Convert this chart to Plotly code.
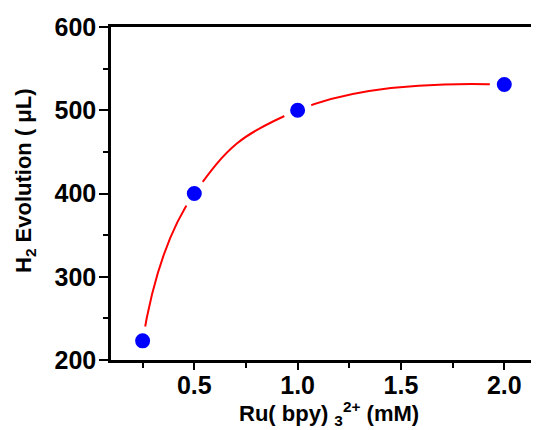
import plotly.graph_objects as go

conc = [0.25, 0.5, 1.0, 2.0]
h2 = [223, 400, 500, 531]
x_ticks = [0.5, 1.0, 1.5, 2.0]
x_ticklabels = ["0.5", "1.0", "1.5", "2.0"]
x_minor = [0.25, 0.75, 1.25, 1.75]
y_ticks = [200, 300, 400, 500, 600]
y_ticklabels = ["200", "300", "400", "500", "600"]
y_minor = [250, 350, 450, 550]
x_title = "Ru( bpy) <sub>3</sub><sup>2+</sup> (mM)"
y_title = "H<sub>2</sub> Evolution ( μL)"

FONT = "Liberation Sans, Arial, sans-serif"
# page body has an 8px default margin; compensate so the plot lands where the reference has it
OFF = 8
L, R, T, B = 111 - OFF, 0, 27 - OFF, 78 - OFF
W, H = 539 - OFF, 430 - OFF
pw, ph = W - L - R, H - T - B

fig = go.Figure()
fig.add_trace(go.Scatter(
    x=conc, y=h2, mode="lines",
    line=dict(color="#ff0000", width=2, shape="spline", smoothing=1.3),
    showlegend=False, hoverinfo="skip",
))
fig.add_trace(go.Scatter(
    x=conc, y=h2, mode="markers",
    marker=dict(color="#0000ff", size=22, line=dict(color="white", width=7)),
    showlegend=False,
))

fig.update_layout(
    width=W, height=H,
    margin=dict(l=L, r=R, t=T, b=B, autoexpand=False),
    paper_bgcolor="white", plot_bgcolor="white",
    font=dict(family=FONT, color="black"),
    xaxis=dict(
        range=[0.097, 2.168], automargin=False,
        tickvals=x_ticks, ticktext=x_ticklabels,
        ticks="outside", ticklen=7, tickwidth=2, tickcolor="black",
        minor=dict(tickvals=x_minor, ticks="outside", ticklen=5, tickwidth=2, tickcolor="black"),
        showline=True, linewidth=2.5, linecolor="black", mirror=True,
        showgrid=False, zeroline=False,
        tickfont=dict(size=25, weight="bold", family=FONT),
        ticklabelstandoff=-6,
    ),
    yaxis=dict(
        range=[200, 600], automargin=False,
        tickvals=y_ticks, ticktext=y_ticklabels,
        ticks="outside", ticklen=9, tickwidth=2, tickcolor="black",
        minor=dict(tickvals=y_minor, ticks="outside", ticklen=5, tickwidth=2, tickcolor="black"),
        showline=True, linewidth=2.5, linecolor="black",
        showgrid=False, zeroline=False,
        tickfont=dict(size=25, weight="bold", family=FONT),
        ticklabelstandoff=-2,
    ),
    annotations=[
        dict(text=x_title, xref="paper", yref="paper",
             x=(329 - 111) / pw, y=(352 - 405) / ph, xanchor="center", yanchor="middle",
             showarrow=False, font=dict(size=22, weight="bold", family=FONT)),
        dict(text=y_title, xref="paper", yref="paper", textangle=-90,
             x=(25 - 111) / pw, y=(352 - 173) / ph, xanchor="center", yanchor="middle",
             showarrow=False, font=dict(size=22, weight="bold", family=FONT)),
    ],
)

fig.write_html("out.html")
